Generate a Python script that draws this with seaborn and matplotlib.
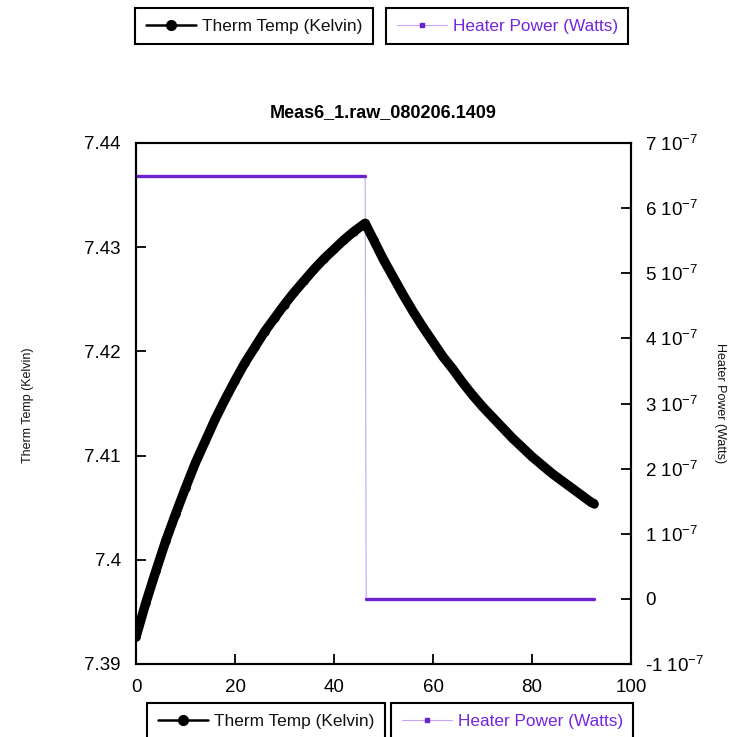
import matplotlib
matplotlib.use("Agg")
import pandas as pd
import matplotlib.pyplot as plt
from matplotlib.lines import Line2D
from matplotlib.ticker import FixedLocator, FixedFormatter
import seaborn as sns

# time axis (seconds)
time_s = [0, 2, 4, 6, 8, 10, 12, 14, 16, 18, 20, 22, 24, 26, 28, 30, 32, 34,
          36, 38, 40, 42, 44, 46, 46.3, 46.5, 48, 50, 52, 54, 56, 58, 60, 62,
          64, 66, 68, 70, 72, 74, 76, 78, 80, 82, 84, 86, 88, 90, 92, 92.5]

# thermometer temperature (Kelvin)
therm_temp_k = [7.3926, 7.3959, 7.3989, 7.4018, 7.4044, 7.4069, 7.4093, 7.4114,
                7.4135, 7.4154, 7.4172, 7.4189, 7.4204, 7.4219, 7.4232, 7.4245,
                7.4257, 7.4268, 7.4279, 7.4289, 7.4298, 7.4307, 7.4315, 7.4322,
                7.4323, 7.4321, 7.4307, 7.4288, 7.4271, 7.4254, 7.4238, 7.4223,
                7.4209, 7.4195, 7.4183, 7.4170, 7.4158, 7.4147, 7.4137, 7.4127,
                7.4117, 7.4108, 7.4099, 7.4091, 7.4083, 7.4076, 7.4069, 7.4062,
                7.4055, 7.4054]

# heater power (Watts): on until ~46 s, then off
heater_power_w = [6.5e-7] * 25 + [0.0] * 25
heater_state = ["on"] * 25 + ["off"] * 25

title = "Meas6_1.raw_080206.1409"
x_ticks = [0, 20, 40, 60, 80, 100]
temp_ticks = [7.39, 7.40, 7.41, 7.42, 7.43, 7.44]
temp_tick_labels = ["7.39", "7.4", "7.41", "7.42", "7.43", "7.44"]
power_ticks = [-1e-7, 0, 1e-7, 2e-7, 3e-7, 4e-7, 5e-7, 6e-7, 7e-7]
power_tick_labels = ["-1 10$^{-7}$", "0", "1 10$^{-7}$", "2 10$^{-7}$", "3 10$^{-7}$",
                     "4 10$^{-7}$", "5 10$^{-7}$", "6 10$^{-7}$", "7 10$^{-7}$"]

df = pd.DataFrame({"time": time_s, "temp": therm_temp_k,
                   "power": heater_power_w, "state": heater_state})

sns.set_style("white")
plt.rcParams["font.family"] = ["Liberation Sans", "DejaVu Sans"]
plt.rcParams["mathtext.default"] = "regular"
plt.rcParams["text.color"] = "black"

purple_dark = "#6a1fd0"
purple_light = "#c4a6f4"
purple_text = "#7326dc"

W, H = 731, 737
fig = plt.figure(figsize=(W / 100, H / 100), dpi=100)
ax = fig.add_axes([136 / W, 1 - 664 / H, 495 / W, 521 / H])
ax2 = ax.twinx()

# heater power on the right axis
sns.lineplot(data=df, x="time", y="power", ax=ax2, color=purple_light, lw=0.8,
             estimator=None, sort=False, legend=False)
sns.lineplot(data=df, x="time", y="power", units="state", ax=ax2, color=purple_dark,
             lw=2.4, estimator=None, sort=False, legend=False)

# temperature on the left axis
sns.lineplot(data=df, x="time", y="temp", ax=ax, color="black", lw=6.8,
             marker="o", markersize=6.0, markeredgewidth=0,
             solid_joinstyle="round", solid_capstyle="round",
             estimator=None, sort=False, legend=False)

ax.set_zorder(ax2.get_zorder() + 1)
ax.patch.set_visible(False)

ax.set_xlim(0, 100)
ax.set_ylim(7.39, 7.44)
ax2.set_ylim(-1e-7, 7e-7)

ax.xaxis.set_major_locator(FixedLocator(x_ticks))
ax.yaxis.set_major_locator(FixedLocator(temp_ticks))
ax.yaxis.set_major_formatter(FixedFormatter(temp_tick_labels))
ax2.yaxis.set_major_locator(FixedLocator(power_ticks))
ax2.yaxis.set_major_formatter(FixedFormatter(power_tick_labels))

ax.tick_params(axis="both", direction="in", length=7, width=1.3, labelsize=13.5,
               colors="black")
ax.tick_params(axis="x", pad=11, top=False, bottom=True)
ax.tick_params(axis="y", pad=11, left=True, right=False)
ax2.tick_params(axis="y", direction="in", length=7, width=1.3, labelsize=13.5,
                pad=10, colors="black")

for a in (ax, ax2):
    for sp in a.spines.values():
        sp.set_color("black")
        sp.set_linewidth(1.5)
ax.set_xlabel("")
ax.set_ylabel("")
ax2.set_ylabel("")

fig.text(383.5 / W, 1 - 113 / H, title, ha="center", va="center",
         fontsize=13, fontweight="bold", color="black")
fig.text(28 / W, 1 - 405 / H, "Therm Temp (Kelvin)", rotation=90,
         ha="center", va="center", fontsize=9, color="#111111")
fig.text(720 / W, 1 - 403 / H, "Heater Power (Watts)", rotation=270,
         ha="center", va="center", fontsize=9, color="#111111")

# legends above and below the plot
temp_handle = Line2D([], [], color="black", lw=1.8, marker="o", markersize=7)
power_handle = Line2D([], [], color=purple_light, lw=0.8, marker="s", markersize=2.5,
                      markerfacecolor=purple_dark, markeredgecolor=purple_dark)

def add_legend(handle, label, x, y, color):
    leg = fig.legend([handle], [label], loc="upper left",
                     bbox_to_anchor=(x / W, 1 - y / H), borderaxespad=0,
                     fontsize=12.4, handlelength=2.9, handletextpad=0.35,
                     borderpad=0.62, fancybox=False, framealpha=1,
                     edgecolor="black")
    leg.get_frame().set_linewidth(1.5)
    leg.get_texts()[0].set_color(color)
    return leg

add_legend(temp_handle, "Therm Temp (Kelvin)", 135, 8, "#111111")
add_legend(power_handle, "Heater Power (Watts)", 386, 8, purple_text)
add_legend(temp_handle, "Therm Temp (Kelvin)", 147, 703, "#111111")
add_legend(power_handle, "Heater Power (Watts)", 391, 703, purple_text)

fig.savefig("out.png", dpi=100)
